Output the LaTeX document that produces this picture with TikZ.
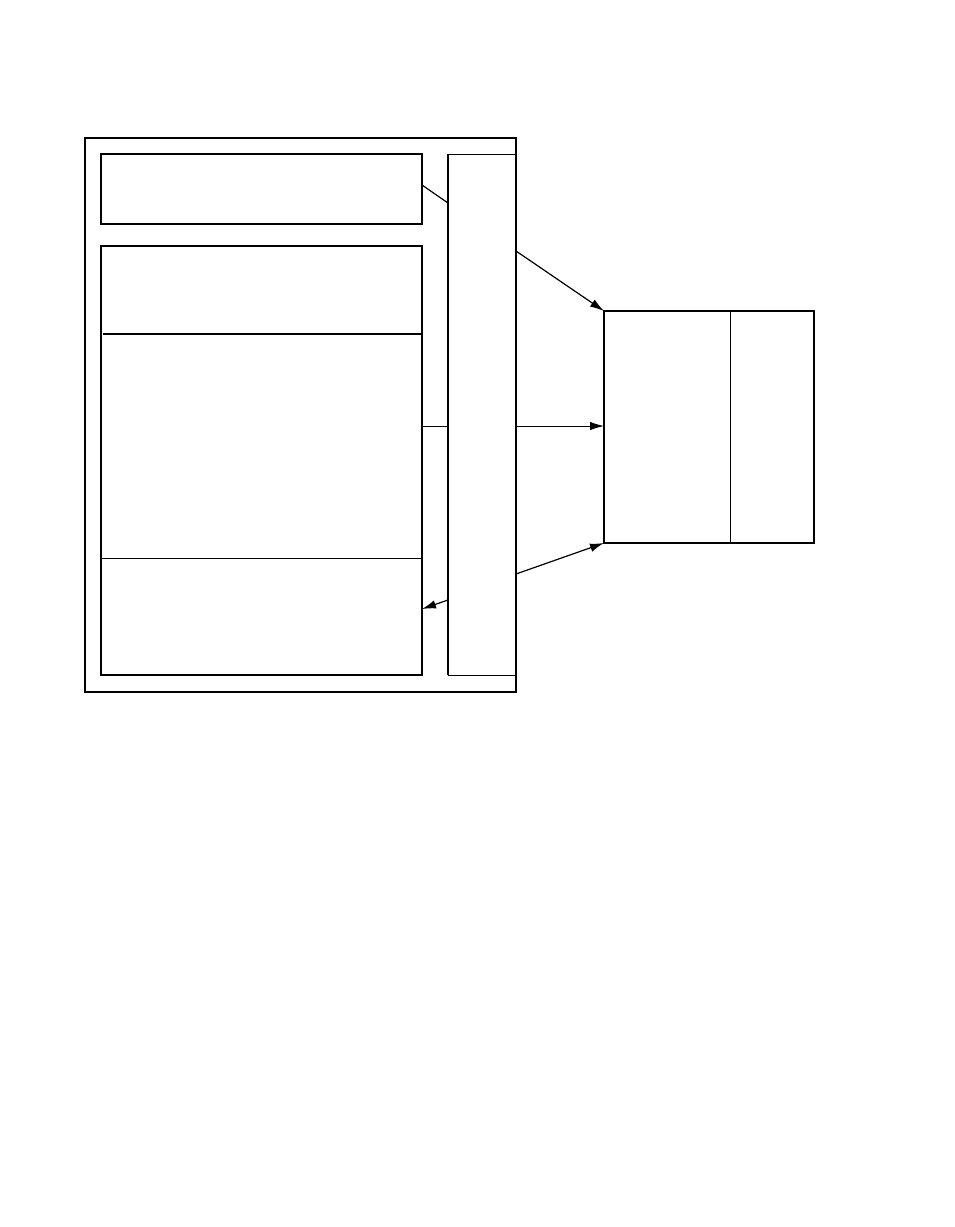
\documentclass[tikz,border=0pt]{standalone}
\usetikzlibrary{arrows.meta}
\begin{document}
\begin{tikzpicture}[x=1pt,y=-1pt,
  boxA/.style={draw,line width=1.5pt,inner sep=0pt,outer sep=0pt,anchor=north west},
  thinl/.style={line width=1pt},
  conn/.style={line width=1.2pt},
  tip/.style={-{Latex[length=14pt,width=8.5pt]}},
  arr/.style={line width=1.2pt,tip}]
\useasboundingbox (0,0) rectangle (954,1227);
% outer box
\node[boxA,line width=2.2pt,minimum width=431pt,minimum height=554pt] (outer) at (85,138) {};
% top box
\node[boxA,minimum width=321pt,minimum height=70pt] (topbox) at (101,154) {};
% middle box
\node[boxA,line width=1.2pt,minimum width=321pt,minimum height=429pt] (mid) at (101,246) {};
\draw[line width=1.8pt] (mid.north west) -- (mid.north east) -- (mid.south east);
\draw[line width=1.8pt] (103,334) -- (422,334);
\draw[thinl] (102,558) -- (422,558);
% tall box
\coordinate (tallNW) at (448,154);
\coordinate (tallSW) at (448,675);
\coordinate (tallNE) at (516,154);
\coordinate (tallSE) at (516,675);
\draw[line width=1.8pt] (tallNW) -- (tallSW);
\draw[thinl] (tallNW) -- (tallNE);
\draw[thinl] (tallSW) -- (tallSE);
% right box
\node[boxA,line width=1.6pt,minimum width=210pt,minimum height=232pt] (rbox) at (604,311) {};
\draw[thinl] (730,311) -- (730,543);
% connectors
\coordinate (a1) at (422,185);
\coordinate (a2) at (448,203);
\draw[conn] (a1) -- (a2);
\coordinate (b1) at (516,251);
\draw[arr] (b1) -- (rbox.north west);
\coordinate (c0) at (422,426);
\coordinate (c1) at (448,426);
\coordinate (c2) at (516,426);
\draw[thinl] (c0) -- (c1);
\draw[thinl,tip] (c2) -- (rbox.west |- c2);
\coordinate (d1) at (516,574);
\draw[arr] (d1) -- (rbox.south west);
\coordinate (e1) at (448,600);
\coordinate (e2) at (422,609);
\draw[arr] (e1) -- (e2);
\end{tikzpicture}
\end{document}
